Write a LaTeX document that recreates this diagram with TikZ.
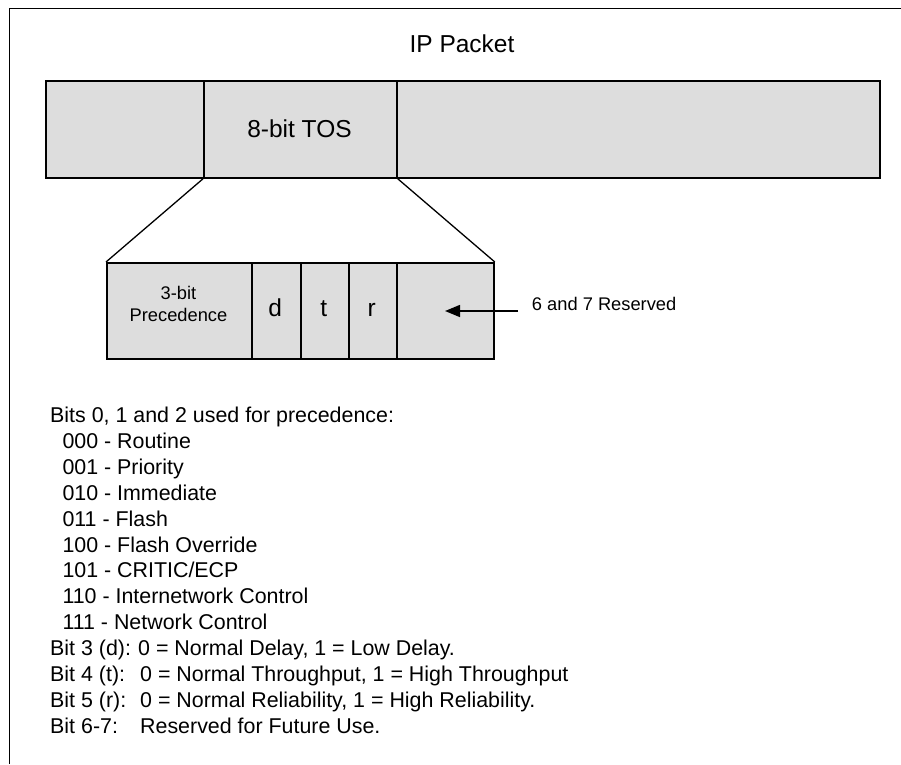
\documentclass[tikz,border=0pt]{standalone}
\usepackage{fontspec}
\setmainfont{Liberation Sans}
\usetikzlibrary{arrows.meta}

\begin{document}
\begin{tikzpicture}[x=1pt, y=-1pt,
  cell/.style={draw=black, line width=1.8pt, fill=boxgray, anchor=north west,
               inner sep=0pt, minimum height=#1},
  bigtxt/.style={font=\fontsize{24.5}{29}\selectfont, inner sep=0pt},
  smalltxt/.style={font=\fontsize{18.3}{22}\selectfont, inner sep=0pt},
  zoomline/.style={line width=1.3pt},
]
\definecolor{boxgray}{RGB}{221,221,221}
\useasboundingbox (0,0) rectangle (901,764);

% open frame (top and left edges)
\draw[line width=1.8pt] (901,8.5) -- (9.5,8.5) -- (9.5,764);

% title
\node[bigtxt, anchor=base] (title) at (462,52) {IP Packet};

% IP packet bar
\node[cell=97pt, minimum width=158pt] (pre)  at (45,80)  {};
\node[cell=97pt, minimum width=483pt] (post) at (396,80) {};
\node[cell=97pt, minimum width=193pt] (tos)  at (203,80) {};
\node[bigtxt, anchor=base] (tostxt) at (299.5,137) {8-bit TOS};

% expanded TOS byte
\node[cell=96pt, minimum width=145pt]  (prec) at (106,262)   {};
\node[cell=96pt, minimum width=48.7pt] (dbit) at (251,262)   {};
\node[cell=96pt, minimum width=48pt]   (tbit) at (299.7,262) {};
\node[cell=96pt, minimum width=48.3pt] (rbit) at (347.7,262) {};
\node[cell=96pt, minimum width=97pt]   (resv) at (396,262)   {};

% first line carries a 16pt strut, so its baseline sits 16pt below the top
\node[smalltxt, anchor=north, align=center] (prectxt) at (178.5,283)
  {\rule{0pt}{16pt}3-bit\\Precedence};
\node[bigtxt, anchor=base] (dtxt) at (275.3,316.7) {d};
\node[bigtxt, anchor=base] (ttxt) at (323.7,316.7) {t};
\node[bigtxt, anchor=base] (rtxt) at (371.8,316.7) {r};

% zoom lines from the TOS field down to the expanded byte
\draw[zoomline] (tos.south west) -- (prec.north west);
\draw[zoomline] (tos.south east) -- (resv.north east);

% reserved bits callout
\node[smalltxt, anchor=base west] (resvtxt) at (531.7,310.7) {6 and 7 Reserved};
\coordinate (arrtail) at (518,311);
\coordinate (arrtip) at (445,311);
\draw[line width=1.5pt, -{Triangle[length=15pt,width=12pt]}] (arrtail) -- (arrtip);

% legend; the 20pt strut puts the first baseline 20pt below the top
\node[anchor=north west, inner sep=0pt, align=left,
      font=\fontsize{21.4}{25.9}\selectfont] (legend) at (50,402.3) {%
\rule{0pt}{20pt}Bits 0, 1 and 2 used for precedence:\\
\hspace*{12.3pt}000 - Routine\\
\hspace*{12.3pt}001 - Priority\\
\hspace*{12.3pt}010 - Immediate\\
\hspace*{12.3pt}011 - Flash\\
\hspace*{12.3pt}100 - Flash Override\\
\hspace*{12.3pt}101 - CRITIC/ECP\\
\hspace*{12.3pt}110 - Internetwork Control\\
\hspace*{12.3pt}111 - Network Control\\
\makebox[88pt][l]{Bit 3 (d):}0 = Normal Delay, 1 = Low Delay.\\
\makebox[90pt][l]{Bit 4 (t):}0 = Normal Throughput, 1 = High Throughput\\
\makebox[90pt][l]{Bit 5 (r):}0 = Normal Reliability, 1 = High Reliability.\\
\makebox[90pt][l]{Bit 6-7:}Reserved for Future Use.};
\end{tikzpicture}
\end{document}
